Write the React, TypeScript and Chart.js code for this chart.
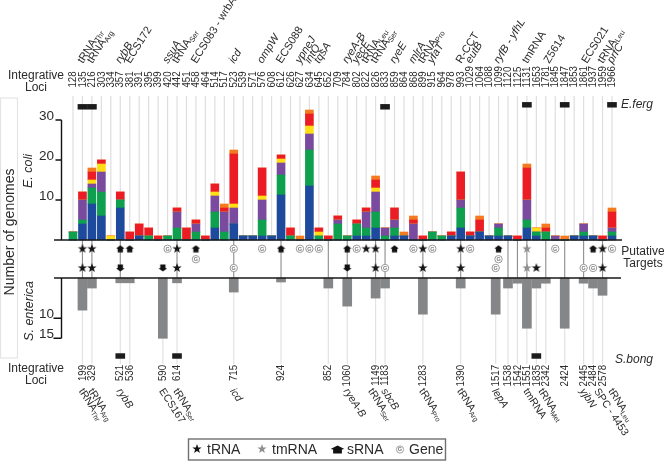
import { useEffect, useRef } from 'react';
import Chart from 'chart.js/auto';

// upper strip: one slot per locus
const topLoci = ['128','135','216','303','334','357','381','391','395','399','420','442','451','458','464','514','517','523','539','571','576','608','612','626','627','634','645','652','709','784','802','822','826','833','859','864','868','899','915','964','978','993','1029','1064','1088','1099','1120','1125','1131','1653','1781','1845','1847','1853','1861','1937','1959','1966'];
const blue = [0,4,9,6,0,8,0,1,0,0,0,0,0,0,0,3,0,4,1,1,1,1,11.25,0,0,13.5,0,0,0,0,1,1,3,0,1,1,0,0,0,0,1,3,1,2,1,1,1,0,3,1,0,0,0,1,1,1,0,1];
const green = [2,1,4,6,0,2,0,0,1,0,1,3,0,2,0,4,2,0,0,0,4,0,5,1,0,9,1,0,4,1,3,2,4,1,2,0,0,0,2,1,0,5,0,0,0,2,0,0,2,1,2,0,0,0,1,0,0,1];
const purple = [0,5,1,5,0,0,0,0,0,0,0,4,0,2,0,4,5,4,0,0,5,0,3,0,0,4,0,0,1,0,0,4,5,2,2,0,4,0,0,0,0,2,0,0,0,1,0,0,5,0,0,1,0,0,2,0,0,1];
const yellow = [0,0,1,2,1,0,0,0,0,0,0,0,0,0,0,1,0,1,0,0,1,0,1,0,0,2,1,0,0,0,0,0,1,0,0,0,0,0,0,0,0,0,0,0,0,0,0,0,0,1,0,0,0,0,0,0,0,0];
const red = [0,2,2,1,0,2,2,3,2,1,0,1,3,1,1,2,1,12.5,0,0,7,0,1,2,0,3,1,1,1,0,1,1,2,0,3,0,1,1,0,0,1,7,1,3,0,0,0,1,8,0,1,0,0,0,0,0,1,4];
const orange = [0,0,1,0,0,0,0,0,0,0,0,0,0,0,0,0,1,1,0,0,0,0,0,0,1,1,0,0,0,0,0,0,1,0,0,1,1,0,0,0,0,0,0,1,0,0,0,0,1,0,1,0,1,0,0,0,0,1];

// lower strip
const lowLoci = ['199','329','521','536','590','614','715','924','852','1060','1149','1183','1283','1390','1517','1538','1542','1551','1835','2342','2424','2445','2484','2578'];
const lowSlots = [1,2,5,6,9.5,11,17,22,27,29,32,33,37,41,44.7,46,47,48,49,50,52,54,55,56];
const salmonella = [8,2.5,1.2,1.2,15,1.2,3.5,1,2.5,7,5,2.5,9,2.5,9,2.5,1.3,12.5,2.5,1.3,12.5,1.3,2.5,4.3];

const connectorSlots = [1,2,5,11,17,22,27,29,32,33,37,41,46,47,48,50,52,54,56];

const eFergSlots = [1,2,33,48,52,57];
const eFergRows = [33.3,33.3,33.3,33.8,33.8,33.8];
const sBongSlots = [5,11,49];

const topTicks = [10,20,30];
const lowTicks = [10,15];

// marker rows, read on the E. coli scale (below its zero line)
const ROW_A = -2.2;
const ROW_B = -4.8;
const ROW_C = -7;
const tRnaA = [1,2,11,31,32,37,41,56];
const tRnaC = [1,2,11,32,37,41,49,56];
const tmRnaA = [48];
const tmRnaC = [48];
const sRnaA = [5,6,13,22,29,34,45,55];
const sRnaC = [5,9.5,29];
const geneA = [10,17,20,24,25,26,30,36,38,42,51,57];
const geneB = [13,45];
const geneC = [17,33,44.7,54,55];

// name, subscript, slot, italic
const topNames: [string, string, number, boolean][] = [
  ['tRNA','Thr',1,false],['tRNA','Arg',2,false],['rybB','',5,true],['ECS172','',6,false],
  ['ssuA','',10,true],['tRNA','Ser',11,false],['ECS083 - wrbA','',13,false],['icd','',17,true],
  ['ompW','',20,true],['ECS088','',22,false],['ypneJ','',24,true],['intQ','',25,true],['tqsA','',26,true],
  ['ryeA-B','',29,true],['yecE','',30,true],['tRNA','Leu',31,false],['tRNA','Ser',32,false],['ryeE','',34,true],
  ['mlrA','',36,true],['tRNA','Pro',37,false],['yfaT','',38,true],['R-CCT','',41,false],['eutB','',42,true],
  ['ryfB - yfhL','',45,true],['tmRNA','',48,false],['Z5614','',50.3,false],['ECS021','',54.3,false],
  ['tRNA','Leu',56,false],['prfC','',57,true],
];
const lowNames: [string, string, number, boolean][] = [
  ['tRNA','Thr',1,false],['tRNA','Arg',2,false],['rybB','',5,true],['ECS167','',9.5,false],['tRNA','Ser',11,false],
  ['icd','',17,true],['ryeA-B','',29,true],['tRNA','Ser',31.6,false],['sbcB','',33,true],['tRNA','Pro',37,false],
  ['tRNA','Arg',41,false],['lepA','',44.7,true],['tmRNA','',48,false],['tRNA','Met',49.6,false],['yjbN','',54,true],
  ['SPC - 4453','',55.5,false],['tRNA','Leu',57,false],
];

const FONT = '"Liberation Sans", Arial, sans-serif';
const INK = '#2b2b2b';
const SLOT_PX = 9.456;
const X0 = 73;
const TOP_ZERO = 240;
const TOP_UNIT = 4;
const LOW_ZERO = 278;
const LOW_UNIT = 4.02;
const W = 664;
const H = 461;

const sprite = (w: number, h: number, paint: (c: CanvasRenderingContext2D) => void) => {
  const cv = document.createElement('canvas');
  cv.width = w;
  cv.height = h;
  paint(cv.getContext('2d')!);
  return cv;
};

const starSprite = (color: string) => sprite(12, 12, c => {
  c.fillStyle = color;
  c.beginPath();
  for (let i = 0; i < 10; i++) {
    const r = i % 2 ? 2 : 4.9;
    const a = -Math.PI / 2 + (i * Math.PI) / 5;
    c.lineTo(6 + r * Math.cos(a), 6 + r * Math.sin(a));
  }
  c.closePath();
  c.fill();
});

const houseSprite = (w: number, h: number, down: boolean) => sprite(w, h, c => {
  if (down) {
    c.translate(0, h);
    c.scale(1, -1);
  }
  c.scale(w / 12, h / 10);
  c.fillStyle = '#111';
  c.beginPath();
  c.moveTo(6, 0.5);
  c.lineTo(11.5, 4.5);
  c.lineTo(9.5, 5);
  c.lineTo(9.5, 9.5);
  c.lineTo(2.5, 9.5);
  c.lineTo(2.5, 5);
  c.lineTo(0.5, 4.5);
  c.closePath();
  c.fill();
});

let legendIcons: HTMLCanvasElement[] = [];

const markerSet = (slots: number[], row: number, style: unknown) => ({
  type: 'scatter' as const,
  data: slots.map(s => ({ x: s, y: row })),
  yAxisID: 'yFlag',
  pointStyle: style as any,
  pointRadius: 5,
  order: 0,
});

const geneSet = (slots: number[], row: number) => ({
  type: 'scatter' as const,
  label: 'gene',
  data: slots.map(s => ({ x: s, y: row })),
  yAxisID: 'yFlag',
  pointStyle: 'circle' as const,
  pointRadius: 3.7,
  pointBorderWidth: 1,
  pointBorderColor: '#9a9a9a',
  pointBackgroundColor: '#fff',
  order: 0,
});

const stackSet = (values: number[], color: string) => ({
  type: 'bar' as const,
  data: values.map((v, i) => ({ x: i, y: v })),
  backgroundColor: color,
  yAxisID: 'yTop',
  stack: 'ecoli',
  barThickness: 8,
  grouped: false,
  order: 2,
});

const blockSet = (data: { x: number; y: [number, number] }[]) => ({
  type: 'bar' as const,
  data,
  backgroundColor: '#1c1c1c',
  yAxisID: 'yFlag',
  stack: 'flag',
  barThickness: 9,
  grouped: false,
  order: 2,
});

const drawLabel = (c: CanvasRenderingContext2D, name: string, sub: string, italic: boolean, size: number) => {
  c.font = `${italic ? 'italic ' : ''}${size}px ${FONT}`;
  c.fillText(name, 0, 0);
  if (sub) {
    const w = c.measureText(name).width;
    c.font = `${size - 3.5}px ${FONT}`;
    c.fillText(sub, w, 2);
  }
};

const text = (c: CanvasRenderingContext2D, s: string, x: number, y: number, font: string, align: CanvasTextAlign = 'center', rot = 0) => {
  c.save();
  c.translate(x, y);
  c.rotate(rot);
  c.font = font;
  c.fillStyle = INK;
  c.textAlign = align;
  c.textBaseline = 'middle';
  c.fillText(s, 0, 0);
  c.restore();
};

const guides = {
  id: 'guides',
  beforeDatasetsDraw(chart: any) {
    const c: CanvasRenderingContext2D = chart.ctx;
    const { x, yTop, yLow } = chart.scales;
    const zeroTop = yTop.getPixelForValue(0);
    const zeroLow = yLow.getPixelForValue(0);
    const vline = (s: number, y1: number, y2: number, color: string, w: number) => {
      c.strokeStyle = color;
      c.lineWidth = w;
      c.beginPath();
      c.moveTo(x.getPixelForValue(s), y1);
      c.lineTo(x.getPixelForValue(s), y2);
      c.stroke();
    };
    c.save();
    topLoci.forEach((_, i) => vline(i, 96, zeroTop, '#dedede', 1.2));
    lowSlots.forEach(s => vline(s, zeroLow, 364, '#e2e2e2', 1.2));
    connectorSlots.forEach(s => vline(s, zeroTop, zeroLow, '#8c8c8c', 1.1));
    c.restore();
  },
  afterDatasetsDraw(chart: any) {
    const c: CanvasRenderingContext2D = chart.ctx;
    const { x, yTop, yLow } = chart.scales;
    const zeroTop = yTop.getPixelForValue(0);
    const zeroLow = yLow.getPixelForValue(0);
    const axisX = 61.5;
    c.save();
    // zero lines
    c.strokeStyle = '#1a1a1a';
    c.lineWidth = 1.3;
    c.beginPath();
    c.moveTo(54, zeroTop);
    c.lineTo(622, zeroTop);
    c.moveTo(54, zeroLow);
    c.lineTo(621, zeroLow);
    c.stroke();
    // axis spines and tick marks
    c.strokeStyle = '#111';
    c.lineWidth = 1.4;
    c.beginPath();
    c.moveTo(axisX, yTop.getPixelForValue(30));
    c.lineTo(axisX, zeroTop);
    c.moveTo(axisX, zeroLow);
    c.lineTo(axisX, yLow.getPixelForValue(15));
    topTicks.forEach(v => {
      c.moveTo(axisX - 6, yTop.getPixelForValue(v));
      c.lineTo(axisX, yTop.getPixelForValue(v));
    });
    lowTicks.forEach(v => {
      c.moveTo(axisX - 8, yLow.getPixelForValue(v));
      c.lineTo(axisX, yLow.getPixelForValue(v));
    });
    c.stroke();
    // left frame
    c.strokeStyle = '#e4e4e4';
    c.lineWidth = 1.2;
    c.strokeRect(0.5, 98, 17, 260);

    // G inside the gene markers
    chart.data.datasets.forEach((d: any, i: number) => {
      if (d.label !== 'gene') return;
      chart.getDatasetMeta(i).data.forEach((p: any) => {
        c.font = `bold 5.5px ${FONT}`;
        c.fillStyle = '#7a7a7a';
        c.textAlign = 'center';
        c.textBaseline = 'middle';
        c.fillText('G', p.x, p.y + 0.3);
      });
    });

    // locus numbers, squeezed along the reading direction
    const numbers = (labels: string[], slots: number[], y: number, align: CanvasTextAlign) => {
      labels.forEach((s, i) => {
        c.save();
        c.translate(x.getPixelForValue(slots[i]), y);
        c.rotate(-Math.PI / 2);
        c.scale(0.84, 1);
        c.font = `11.5px ${FONT}`;
        c.fillStyle = INK;
        c.textAlign = align;
        c.textBaseline = 'middle';
        c.fillText(s, 0, 0);
        c.restore();
      });
    };
    numbers(topLoci, topLoci.map((_, i) => i), 87.5, 'left');
    numbers(lowLoci, lowSlots, 365, 'right');

    // rotated gene names
    c.fillStyle = INK;
    c.textAlign = 'left';
    c.textBaseline = 'alphabetic';
    topNames.forEach(([name, sub, slot, italic]) => {
      c.save();
      c.translate(x.getPixelForValue(slot) + 0.5, 64);
      c.rotate((-58 * Math.PI) / 180);
      drawLabel(c, name, sub, italic, 11);
      c.restore();
    });
    lowNames.forEach(([name, sub, slot, italic]) => {
      c.save();
      c.translate(x.getPixelForValue(slot) - 4, 391);
      c.rotate((57 * Math.PI) / 180);
      drawLabel(c, name, sub, italic, 10.5);
      c.restore();
    });

    // titles and side texts
    const f12 = `12px ${FONT}`;
    text(c, 'Integrative', 36, 76, f12);
    text(c, 'Loci', 36, 88, f12);
    text(c, 'Integrative', 36, 369, f12);
    text(c, 'Loci', 36, 381, f12);
    text(c, 'Putative', 643, 252, f12);
    text(c, 'Targets', 643, 264, f12);
    text(c, 'E.ferg', 637, 105, `italic 12px ${FONT}`);
    text(c, 'S.bong', 634, 360, `italic 12px ${FONT}`);
    text(c, 'Number of genomes', 10, 232, `14px ${FONT}`, 'center', -Math.PI / 2);
    text(c, 'E. coli', 29, 171, `italic 12.5px ${FONT}`, 'center', -Math.PI / 2);
    text(c, 'S. enterica', 30, 311, `italic 12.5px ${FONT}`, 'center', -Math.PI / 2);

    // legend
    c.strokeStyle = '#707070';
    c.lineWidth = 1.4;
    c.strokeRect(188.5, 439, 257, 21);
    const f14 = `14px ${FONT}`;
    text(c, 'tRNA', 207, 450, f14, 'left');
    text(c, 'tmRNA', 272, 450, f14, 'left');
    text(c, 'sRNA', 347, 450, f14, 'left');
    text(c, 'Gene', 409, 450, f14, 'left');
    c.drawImage(legendIcons[0], 191, 443);
    c.drawImage(legendIcons[1], 256, 443);
    c.drawImage(legendIcons[2], 330, 445);
    c.beginPath();
    c.arc(400, 449.5, 3.6, 0, Math.PI * 2);
    c.lineWidth = 0.8;
    c.strokeStyle = '#8a8a8a';
    c.stroke();
    c.font = `bold 5.5px ${FONT}`;
    c.fillStyle = '#777';
    c.textAlign = 'center';
    c.textBaseline = 'middle';
    c.fillText('G', 400, 449.8);
    c.restore();
  },
};

const App = () => {
  const chartRef = useRef<HTMLCanvasElement>(null);
  const chartInstance = useRef<Chart | null>(null);

  useEffect(() => {
    if (!chartRef.current) return;
    if (chartInstance.current) chartInstance.current.destroy();

    const star = starSprite('#151515');
    const greyStar = starSprite('#8f8f8f');
    const houseUp = houseSprite(9, 8, false);
    const houseDown = houseSprite(9, 8, true);
    legendIcons = [star, greyStar, houseSprite(15, 9, false)];

    const sideAxis = (ticks: number[], reverse: boolean, min: number, max: number) => ({
      type: 'linear' as const,
      bounds: 'data' as const,
      reverse,
      min,
      max,
      position: { x: -1.22 },
      border: { display: false },
      grid: { display: false },
      ticks: {
        autoSkip: false,
        color: INK,
        padding: 2,
        labelOffset: -4,
        font: { family: 'Liberation Sans', size: 13.5 },
        // trailing spaces keep the number clear of the axis
        callback: (v: any) => `${v}  `,
      },
      afterBuildTicks: (scale: any) => {
        scale.ticks = ticks.map(value => ({ value }));
      },
    });

    const chart = new Chart(chartRef.current, {
      type: 'bar',
      data: {
        datasets: [
          stackSet(blue, '#1e4a9e'),
          stackSet(green, '#0ea04f'),
          stackSet(purple, '#7a4a9f'),
          stackSet(yellow, '#ffdd15'),
          stackSet(red, '#ec1c24'),
          stackSet(orange, '#f47a20'),
          {
            type: 'bar',
            data: salmonella.map((v, i) => ({ x: lowSlots[i], y: v })),
            backgroundColor: '#858688',
            yAxisID: 'yLow',
            stack: 'low',
            barThickness: 9,
            grouped: false,
            order: 2,
          },
          blockSet(eFergSlots.map((s, i) => ({ x: s, y: [eFergRows[i] - 0.6, eFergRows[i] + 0.6] as [number, number] }))),
          blockSet(sBongSlots.map(s => ({ x: s, y: [-29.6, -28.4] as [number, number] }))),
          markerSet(tRnaA, ROW_A, star),
          markerSet(tRnaC, ROW_C, star),
          markerSet(tmRnaA, ROW_A, greyStar),
          markerSet(tmRnaC, ROW_C, greyStar),
          markerSet(sRnaA, ROW_A, houseUp),
          markerSet(sRnaC, ROW_C, houseDown),
          geneSet(geneA, ROW_A),
          geneSet(geneB, ROW_B),
          geneSet(geneC, ROW_C),
        ] as any,
      },
      options: {
        responsive: false,
        animation: false,
        layout: { padding: 0 },
        plugins: { legend: { display: false }, tooltip: { enabled: false } },
        scales: {
          x: { type: 'linear', bounds: 'data', display: false, offset: false, min: 0, max: 57 },
          yTop: { ...sideAxis(topTicks, false, -50, 60), stacked: true },
          yLow: sideAxis(lowTicks, true, -60, 40),
          yFlag: { type: 'linear', bounds: 'data', display: false, min: -50, max: 60 },
        },
      } as any,
      plugins: [guides],
    });

    // the positioned axes inset the plot area, so pin the scales to it
    const a = chart.chartArea;
    const s: any = chart.options.scales;
    s.x.min = (a.left - X0) / SLOT_PX;
    s.x.max = (a.right - X0) / SLOT_PX;
    s.yTop.min = s.yFlag.min = (TOP_ZERO - a.bottom) / TOP_UNIT;
    s.yTop.max = s.yFlag.max = (TOP_ZERO - a.top) / TOP_UNIT;
    s.yLow.min = (a.top - LOW_ZERO) / LOW_UNIT;
    s.yLow.max = (a.bottom - LOW_ZERO) / LOW_UNIT;
    chart.update();
    chartInstance.current = chart;

    return () => {
      if (chartInstance.current) {
        chartInstance.current.destroy();
        chartInstance.current = null;
      }
    };
  }, []);

  return (
    <div style={{ position: 'absolute', left: 0, top: 0, width: W, height: H }}>
      <canvas ref={chartRef} width={W} height={H} style={{ display: 'block' }} />
    </div>
  );
};

export default App;
